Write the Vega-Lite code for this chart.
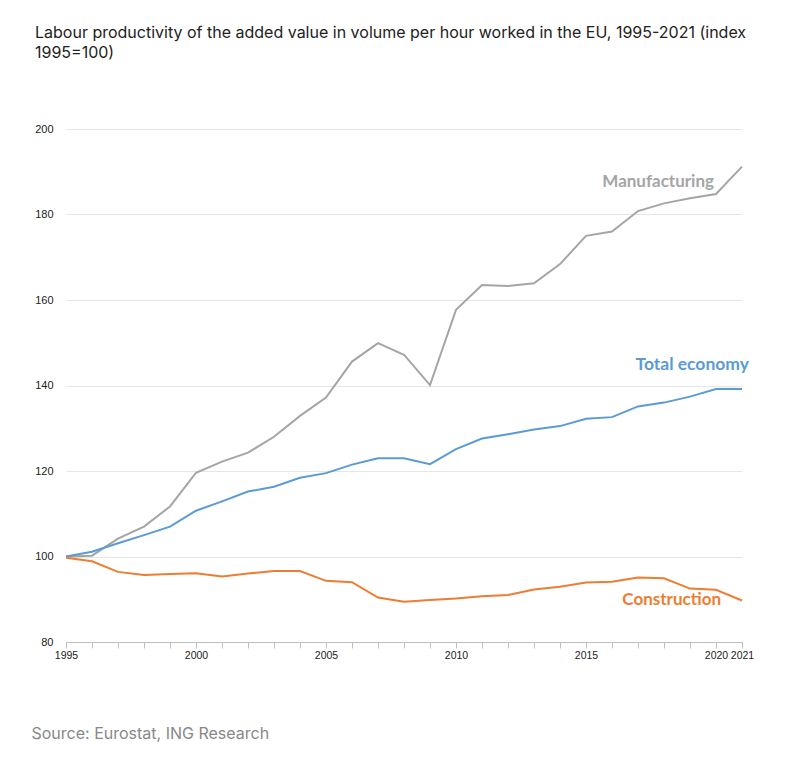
{
  "$schema": "https://vega.github.io/schema/vega-lite/v6.json",
  "width": 676,
  "height": 513,
  "autosize": {"type": "none"},
  "padding": {"left": 66, "top": 129, "right": 43, "bottom": 115},
  "background": "white",
  "config": {"view": {"stroke": null}},
  "title": {
    "text": ["Labour productivity of the added value in volume per hour worked in the EU, 1995-2021 (index", "1995=100)"],
    "font": "Inter",
    "fontSize": 16,
    "fontWeight": "normal",
    "color": "#222222",
    "anchor": "start",
    "frame": "group",
    "dx": -31,
    "offset": 62,
    "lineHeight": 20
  },
  "datasets": {
    "prod": [
      {"year": 1995, "series": "Manufacturing", "value": 100.0},
      {"year": 1996, "series": "Manufacturing", "value": 100.2},
      {"year": 1997, "series": "Manufacturing", "value": 104.2},
      {"year": 1998, "series": "Manufacturing", "value": 107.0},
      {"year": 1999, "series": "Manufacturing", "value": 111.7},
      {"year": 2000, "series": "Manufacturing", "value": 119.6},
      {"year": 2001, "series": "Manufacturing", "value": 122.2},
      {"year": 2002, "series": "Manufacturing", "value": 124.3},
      {"year": 2003, "series": "Manufacturing", "value": 128.0},
      {"year": 2004, "series": "Manufacturing", "value": 132.9},
      {"year": 2005, "series": "Manufacturing", "value": 137.2},
      {"year": 2006, "series": "Manufacturing", "value": 145.6},
      {"year": 2007, "series": "Manufacturing", "value": 149.9},
      {"year": 2008, "series": "Manufacturing", "value": 147.2},
      {"year": 2009, "series": "Manufacturing", "value": 140.1},
      {"year": 2010, "series": "Manufacturing", "value": 157.7},
      {"year": 2011, "series": "Manufacturing", "value": 163.5},
      {"year": 2012, "series": "Manufacturing", "value": 163.3},
      {"year": 2013, "series": "Manufacturing", "value": 163.9},
      {"year": 2014, "series": "Manufacturing", "value": 168.4},
      {"year": 2015, "series": "Manufacturing", "value": 175.0},
      {"year": 2016, "series": "Manufacturing", "value": 176.0},
      {"year": 2017, "series": "Manufacturing", "value": 180.8},
      {"year": 2018, "series": "Manufacturing", "value": 182.6},
      {"year": 2019, "series": "Manufacturing", "value": 183.8},
      {"year": 2020, "series": "Manufacturing", "value": 184.8},
      {"year": 2021, "series": "Manufacturing", "value": 191.2},
      {"year": 1995, "series": "Total economy", "value": 100.0},
      {"year": 1996, "series": "Total economy", "value": 101.1},
      {"year": 1997, "series": "Total economy", "value": 103.1},
      {"year": 1998, "series": "Total economy", "value": 105.0},
      {"year": 1999, "series": "Total economy", "value": 107.0},
      {"year": 2000, "series": "Total economy", "value": 110.7},
      {"year": 2001, "series": "Total economy", "value": 112.9},
      {"year": 2002, "series": "Total economy", "value": 115.2},
      {"year": 2003, "series": "Total economy", "value": 116.3},
      {"year": 2004, "series": "Total economy", "value": 118.4},
      {"year": 2005, "series": "Total economy", "value": 119.5},
      {"year": 2006, "series": "Total economy", "value": 121.5},
      {"year": 2007, "series": "Total economy", "value": 123.0},
      {"year": 2008, "series": "Total economy", "value": 123.0},
      {"year": 2009, "series": "Total economy", "value": 121.6},
      {"year": 2010, "series": "Total economy", "value": 125.1},
      {"year": 2011, "series": "Total economy", "value": 127.6},
      {"year": 2012, "series": "Total economy", "value": 128.6},
      {"year": 2013, "series": "Total economy", "value": 129.7},
      {"year": 2014, "series": "Total economy", "value": 130.5},
      {"year": 2015, "series": "Total economy", "value": 132.2},
      {"year": 2016, "series": "Total economy", "value": 132.6},
      {"year": 2017, "series": "Total economy", "value": 135.1},
      {"year": 2018, "series": "Total economy", "value": 136.0},
      {"year": 2019, "series": "Total economy", "value": 137.4},
      {"year": 2020, "series": "Total economy", "value": 139.2},
      {"year": 2021, "series": "Total economy", "value": 139.2},
      {"year": 1995, "series": "Construction", "value": 99.7},
      {"year": 1996, "series": "Construction", "value": 98.9},
      {"year": 1997, "series": "Construction", "value": 96.4},
      {"year": 1998, "series": "Construction", "value": 95.7},
      {"year": 1999, "series": "Construction", "value": 95.9},
      {"year": 2000, "series": "Construction", "value": 96.1},
      {"year": 2001, "series": "Construction", "value": 95.3},
      {"year": 2002, "series": "Construction", "value": 96.0},
      {"year": 2003, "series": "Construction", "value": 96.6},
      {"year": 2004, "series": "Construction", "value": 96.6},
      {"year": 2005, "series": "Construction", "value": 94.3},
      {"year": 2006, "series": "Construction", "value": 94.0},
      {"year": 2007, "series": "Construction", "value": 90.4},
      {"year": 2008, "series": "Construction", "value": 89.4},
      {"year": 2009, "series": "Construction", "value": 89.8},
      {"year": 2010, "series": "Construction", "value": 90.2},
      {"year": 2011, "series": "Construction", "value": 90.7},
      {"year": 2012, "series": "Construction", "value": 91.0},
      {"year": 2013, "series": "Construction", "value": 92.3},
      {"year": 2014, "series": "Construction", "value": 92.9},
      {"year": 2015, "series": "Construction", "value": 93.9},
      {"year": 2016, "series": "Construction", "value": 94.1},
      {"year": 2017, "series": "Construction", "value": 95.1},
      {"year": 2018, "series": "Construction", "value": 94.9},
      {"year": 2019, "series": "Construction", "value": 92.5},
      {"year": 2020, "series": "Construction", "value": 92.2},
      {"year": 2021, "series": "Construction", "value": 89.7}
    ]
  },
  "data": {"name": "prod"},
  "encoding": {
    "x": {
      "field": "year",
      "type": "quantitative",
      "scale": {"domain": [1995, 2021], "nice": false, "zero": false},
      "axis": {
        "values": [1995, 1996, 1997, 1998, 1999, 2000, 2001, 2002, 2003, 2004, 2005, 2006, 2007, 2008, 2009, 2010, 2011, 2012, 2013, 2014, 2015, 2016, 2017, 2018, 2019, 2020, 2021],
        "format": "d",
        "labelExpr": "indexof([1995, 2000, 2005, 2010, 2015, 2020, 2021], datum.value) >= 0 ? datum.label : ''",
        "labelOverlap": false,
        "labelFlush": false,
        "labelBound": false,
        "grid": false,
        "domainColor": "#bfbfbf",
        "tickColor": "#bfbfbf",
        "tickSize": 6,
        "labelFont": "Liberation Sans",
        "labelFontSize": 10.5,
        "labelColor": "#222222",
        "labelPadding": 2,
        "encode": {"labels": {"update": {"dx": {"signal": "datum.value == 2021 ? 5 : (datum.value == 2020 ? -1 : 0)"}}}},
        "title": "Source: Eurostat, ING Research",
        "titleFont": "Inter",
        "titleFontSize": 16,
        "titleFontWeight": "normal",
        "titleColor": "#888888",
        "titleAlign": "left",
        "titleBaseline": "alphabetic",
        "titleX": -35,
        "titleY": 96
      }
    },
    "y": {
      "field": "value",
      "type": "quantitative",
      "scale": {"domain": [80, 200], "nice": false, "zero": false},
      "axis": {
        "values": [80, 100, 120, 140, 160, 180, 200],
        "grid": true,
        "gridColor": "#e6e6e6",
        "ticks": false,
        "domain": false,
        "labelFont": "Liberation Sans",
        "labelFontSize": 11,
        "labelColor": "#222222",
        "labelPadding": 13,
        "title": null
      }
    },
    "color": {
      "field": "series",
      "type": "nominal",
      "scale": {"domain": ["Manufacturing", "Total economy", "Construction"], "range": ["#A5A5A5", "#5B9BD5", "#ED7D31"]},
      "legend": null
    }
  },
  "layer": [
    {"mark": {"type": "line", "strokeWidth": 2, "clip": false}},
    {
      "transform": [{"filter": "datum.series == 'Manufacturing' && datum.year == 2020"}],
      "mark": {"type": "text", "align": "right", "baseline": "alphabetic", "dx": -2, "dy": -7, "font": "Lato", "fontWeight": "bold", "fontSize": 17},
      "encoding": {"text": {"field": "series"}}
    },
    {
      "transform": [{"filter": "datum.series == 'Total economy' && datum.year == 2021"}],
      "mark": {"type": "text", "align": "right", "baseline": "alphabetic", "dx": 7, "dy": -19, "font": "Lato", "fontWeight": "bold", "fontSize": 17.5},
      "encoding": {"text": {"field": "series"}}
    },
    {
      "transform": [{"filter": "datum.series == 'Construction' && datum.year == 2020"}],
      "mark": {"type": "text", "align": "right", "baseline": "alphabetic", "dx": 5, "dy": 15, "font": "Lato", "fontWeight": "bold", "fontSize": 17},
      "encoding": {"text": {"field": "series"}}
    }
  ]
}
